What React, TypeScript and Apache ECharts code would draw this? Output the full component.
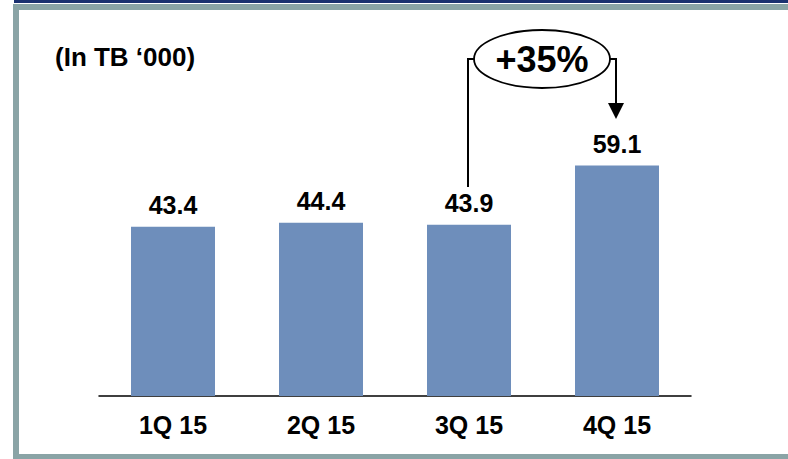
import React, { useEffect, useRef } from "react";
import * as echarts from "echarts";

const categories = ["1Q 15", "2Q 15", "3Q 15", "4Q 15"];
const values = [43.4, 44.4, 43.9, 59.1];
const unitLabel = "(In TB \u2018000)";
const growthLabel = "+35%";

export default function App() {
  const ref = useRef<HTMLDivElement>(null);
  useEffect(() => {
    document.body.style.margin = "0";
    const chart = echarts.init(ref.current!, null, { renderer: "svg" });
    const font = "'Liberation Sans', Arial, sans-serif";
    chart.setOption({
      animation: false,
      backgroundColor: "#ffffff",
      grid: { left: 99, right: 97, top: 123, bottom: 63 },
      xAxis: {
        type: "category",
        data: categories,
        axisLine: { lineStyle: { color: "#000000", width: 1.5 } },
        axisTick: { show: false },
        axisLabel: {
          color: "#000000",
          fontFamily: font,
          fontWeight: "bold",
          fontSize: 25,
          margin: 16,
        },
      },
      yAxis: { type: "value", min: 0, max: 70, show: false, splitLine: { show: false } },
      series: [
        {
          type: "bar",
          data: values,
          barWidth: 84,
          itemStyle: { color: "#6E8EBB" },
          label: {
            show: true,
            position: "top",
            distance: 9,
            color: "#000000",
            fontFamily: font,
            fontWeight: "bold",
            fontSize: 25,
            formatter: (p: any) => p.value.toFixed(1),
          },
        },
      ],
      graphic: [
        { type: "rect", shape: { x: 14, y: 0, width: 780, height: 3 }, style: { fill: "#1B3170" }, silent: true },
        { type: "rect", shape: { x: 13, y: 4, width: 780, height: 6 }, style: { fill: "#8AA4A6" }, silent: true },
        { type: "rect", shape: { x: 13, y: 4, width: 6, height: 455 }, style: { fill: "#8AA4A6" }, silent: true },
        { type: "rect", shape: { x: 13, y: 454, width: 780, height: 5 }, style: { fill: "#8AA4A6" }, silent: true },
        {
          type: "text",
          left: 55,
          top: 44,
          style: { text: unitLabel, fill: "#000000", font: `bold 26px ${font}` },
        },
        {
          type: "polyline",
          shape: { points: [[468, 187], [468, 59], [474, 59]] },
          style: { stroke: "#000000", lineWidth: 2, fill: "none" },
        },
        {
          type: "ellipse",
          shape: { cx: 542, cy: 59, rx: 68, ry: 29 },
          style: { stroke: "#000000", lineWidth: 1.8, fill: "#ffffff" },
        },
        {
          type: "polyline",
          shape: { points: [[610, 59], [616, 59], [616, 104]] },
          style: { stroke: "#000000", lineWidth: 2, fill: "none" },
        },
        {
          type: "polygon",
          shape: { points: [[608, 103], [624, 103], [616, 119]] },
          style: { fill: "#000000" },
        },
        {
          type: "text",
          x: 542,
          y: 59,
          style: {
            text: growthLabel,
            fill: "#000000",
            font: `bold 36px ${font}`,
            align: "center",
            verticalAlign: "middle",
          },
        },
      ],
    });
    return () => chart.dispose();
  }, []);
  return <div ref={ref} style={{ width: 788, height: 459 }} />;
}
